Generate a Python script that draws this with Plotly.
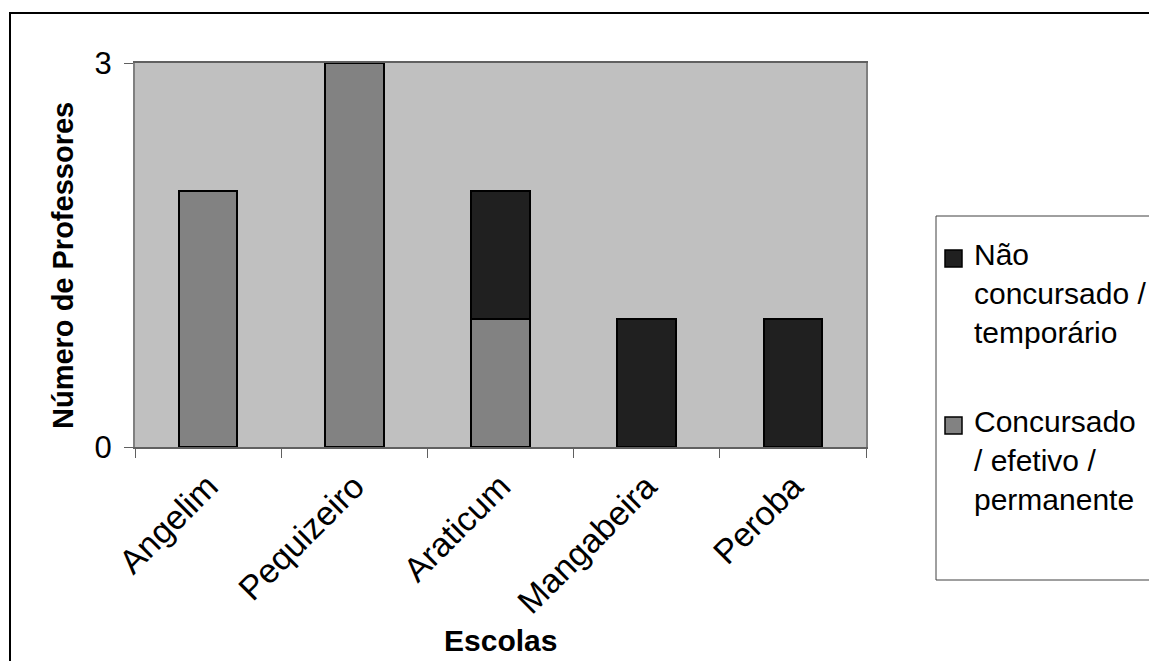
import plotly.graph_objects as go

# Escolas e número de professores por tipo de vínculo
escolas = ["Angelim", "Pequizeiro", "Araticum", "Mangabeira", "Peroba"]
concursado = [2, 3, 1, 0, 0]
nao_concursado = [0, 0, 1, 1, 1]
serie_concursado = "Concursado<br>/ efetivo /<br>permanente"
serie_nao_concursado = "Não<br>concursado /<br>temporário"
y_ticks = [0, 3]

COR_CONCURSADO = "#828282"
COR_NAO_CONCURSADO = "#202020"
FONTE = "Liberation Sans, Arial, sans-serif"

W, H = 1149, 661
L, R, T, B = 135, 283, 63, 214
PW, PH = W - L - R, H - T - B


def px(x):
    return (x - L) / PW


def py(y):
    return (H - B - y) / PH


def linha(x0, y0, x1, y1, cor, largura):
    return dict(type="line", xref="paper", yref="paper",
                x0=px(x0), y0=py(y0), x1=px(x1), y1=py(y1),
                line=dict(color=cor, width=largura), layer="above")


fig = go.Figure()
fig.add_trace(go.Bar(
    x=escolas, y=concursado, name="Concursado",
    marker=dict(color=COR_CONCURSADO, line=dict(color="black", width=2)),
    showlegend=False,
))
fig.add_trace(go.Bar(
    x=escolas, y=nao_concursado, name="Não concursado",
    marker=dict(color=COR_NAO_CONCURSADO, line=dict(color="black", width=2)),
    showlegend=False,
))

shapes = [
    # moldura externa do gráfico
    linha(10, 13, 10, 700, "black", 2),
    linha(9, 13, 1300, 13, "black", 2),
    # caixa da legenda (aberta à direita, cortada pela borda)
    linha(936, 216, 1149, 216, "#404040", 1),
    linha(936, 216, 936, 580, "#404040", 1),
    linha(936, 580, 1149, 580, "#404040", 1),
    linha(1148, 218, 1148, 578, "white", 4),
    # símbolos da legenda
    dict(type="rect", xref="paper", yref="paper",
         x0=px(945), x1=px(962), y0=py(267), y1=py(250),
         line=dict(color="black", width=1.5), fillcolor=COR_NAO_CONCURSADO),
    dict(type="rect", xref="paper", yref="paper",
         x0=px(945), x1=px(962), y0=py(434), y1=py(417),
         line=dict(color="black", width=1.5), fillcolor=COR_CONCURSADO),
]

annotations = [
    dict(text=serie_nao_concursado, xref="paper", yref="paper",
         x=px(972), y=py(236), xanchor="left", yanchor="top",
         align="left", showarrow=False, font=dict(size=30, color="black")),
    dict(text=serie_concursado, xref="paper", yref="paper",
         x=px(972), y=py(403), xanchor="left", yanchor="top",
         align="left", showarrow=False, font=dict(size=30, color="black")),
    # títulos dos eixos
    dict(text="<b>Escolas</b>", xref="paper", yref="paper",
         x=0.5, y=py(640), xanchor="center", yanchor="middle",
         showarrow=False, font=dict(size=30, color="black")),
    dict(text="<b>Número de Professores</b>", xref="paper", yref="paper",
         x=px(63), y=py(266), xanchor="center", yanchor="middle",
         textangle=-90, showarrow=False, font=dict(size=29, color="black")),
]

fig.update_layout(
    width=W, height=H,
    margin=dict(l=L, r=R, t=T, b=B, autoexpand=False),
    barmode="stack",
    bargap=0.6,
    paper_bgcolor="white",
    plot_bgcolor="#c0c0c0",
    font=dict(family=FONTE, size=30, color="black"),
    shapes=shapes,
    annotations=annotations,
    showlegend=False,
)
fig.update_xaxes(
    tickangle=-45, tickson="boundaries", ticks="outside", ticklen=9,
    tickcolor="#606060", showline=True, linecolor="#606060", linewidth=2,
    mirror=True, showgrid=False, automargin=False,
    tickfont=dict(size=34), ticklabelstandoff=4,
)
fig.update_yaxes(
    range=[0, 3], tickvals=y_ticks, ticks="outside", ticklen=9,
    tickcolor="#606060", showline=True, linecolor="#808080", linewidth=2,
    mirror=True, showgrid=False, zeroline=False, automargin=False,
    tickfont=dict(size=31), ticklabelstandoff=6,
)

fig.write_html("out.html")
